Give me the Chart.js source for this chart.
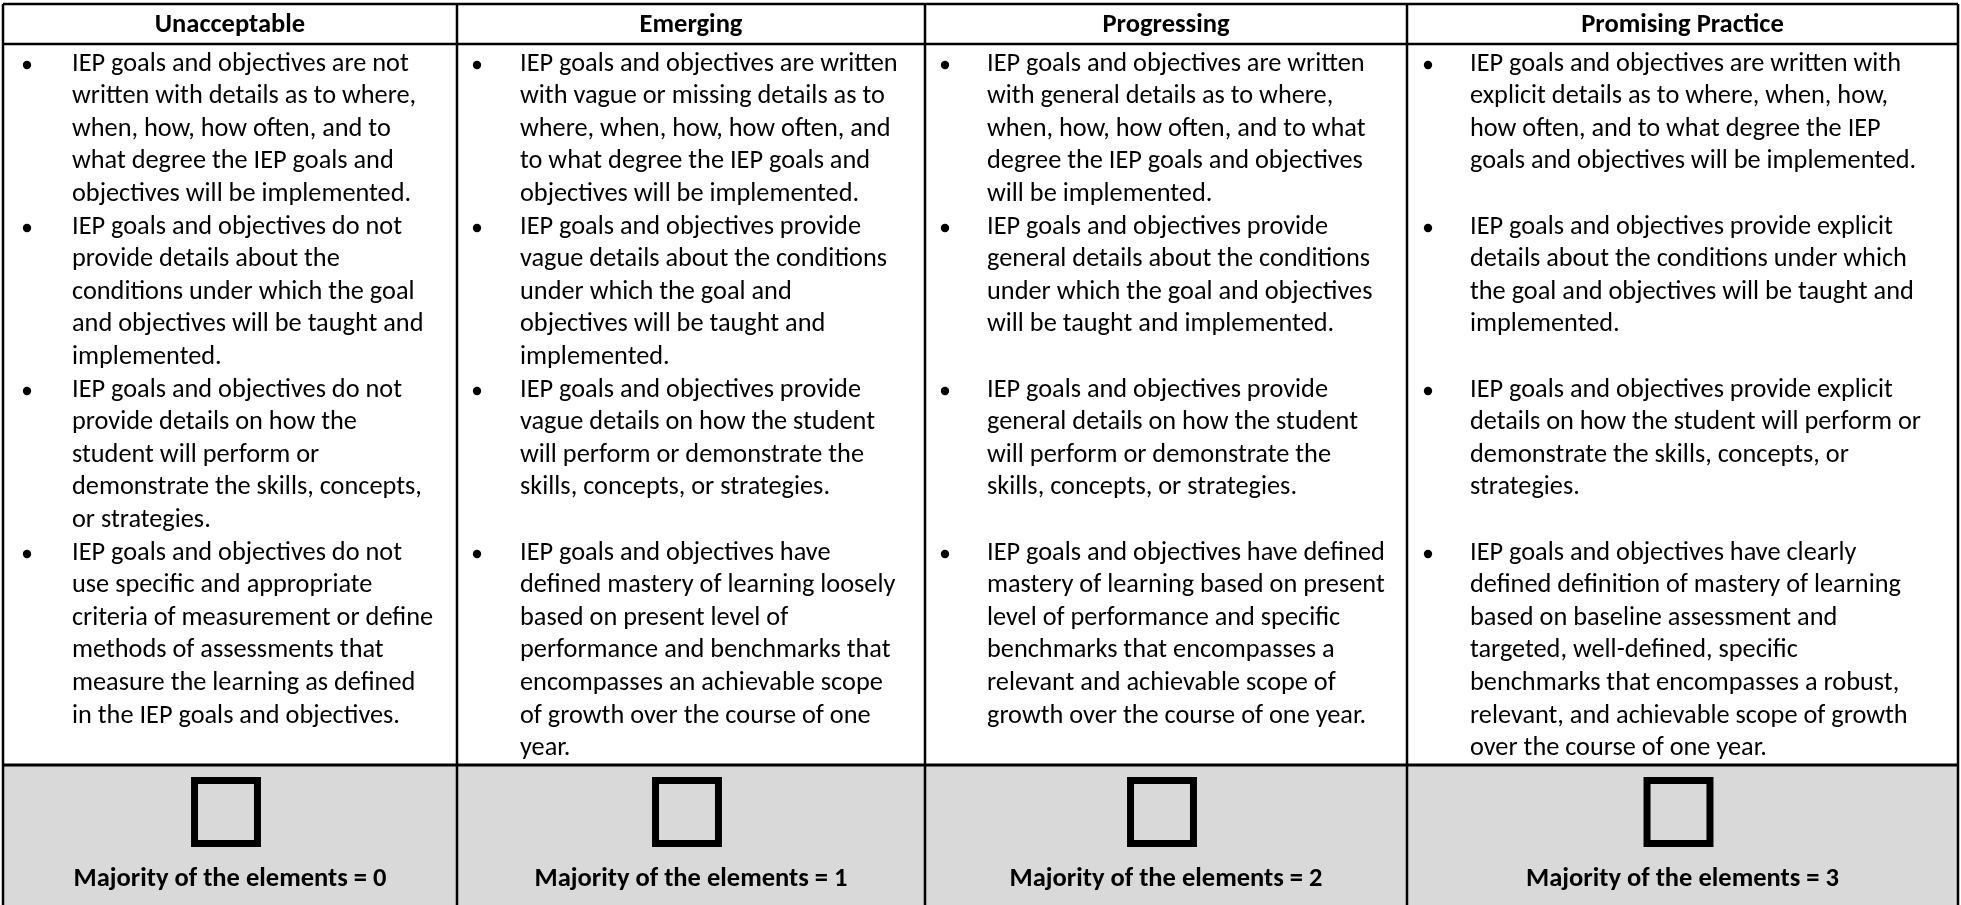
<!DOCTYPE html>
<html>
<head>
<meta charset="utf-8">
<script src="https://cdn.jsdelivr.net/npm/chart.js@4/dist/chart.umd.min.js"></script>
<style>
  html, body { margin: 0; padding: 0; background: #ffffff; }
  canvas { display: block; }
</style>
</head>
<body>
<canvas id="rubricChart" width="1961" height="905"></canvas>
<script>
// rubric content
const levels = ['Unacceptable', 'Emerging', 'Progressing', 'Promising Practice'];
const scores = [0, 1, 2, 3];

const unacceptable = [
    ['IEP goals and objectives are not', 'written with details as to where,', 'when, how, how often, and to', 'what degree the IEP goals and', 'objectives will be implemented.'],
    ['IEP goals and objectives do not', 'provide details about the', 'conditions under which the goal', 'and objectives will be taught and', 'implemented.'],
    ['IEP goals and objectives do not', 'provide details on how the', 'student will perform or', 'demonstrate the skills, concepts,', 'or strategies.'],
    ['IEP goals and objectives do not', 'use specific and appropriate', 'criteria of measurement or define', 'methods of assessments that', 'measure the learning as defined', 'in the IEP goals and objectives.']
];
const emerging = [
    ['IEP goals and objectives are written', 'with vague or missing details as to', 'where, when, how, how often, and', 'to what degree the IEP goals and', 'objectives will be implemented.'],
    ['IEP goals and objectives provide', 'vague details about the conditions', 'under which the goal and', 'objectives will be taught and', 'implemented.'],
    ['IEP goals and objectives provide', 'vague details on how the student', 'will perform or demonstrate the', 'skills, concepts, or strategies.'],
    ['IEP goals and objectives have', 'defined mastery of learning loosely', 'based on present level of', 'performance and benchmarks that', 'encompasses an achievable scope', 'of growth over the course of one', 'year.']
];
const progressing = [
    ['IEP goals and objectives are written', 'with general details as to where,', 'when, how, how often, and to what', 'degree the IEP goals and objectives', 'will be implemented.'],
    ['IEP goals and objectives provide', 'general details about the conditions', 'under which the goal and objectives', 'will be taught and implemented.'],
    ['IEP goals and objectives provide', 'general details on how the student', 'will perform or demonstrate the', 'skills, concepts, or strategies.'],
    ['IEP goals and objectives have defined', 'mastery of learning based on present', 'level of performance and specific', 'benchmarks that encompasses a', 'relevant and achievable scope of', 'growth over the course of one year.']
];
const promising = [
    ['IEP goals and objectives are written with', 'explicit details as to where, when, how,', 'how often, and to what degree the IEP', 'goals and objectives will be implemented.'],
    ['IEP goals and objectives provide explicit', 'details about the conditions under which', 'the goal and objectives will be taught and', 'implemented.'],
    ['IEP goals and objectives provide explicit', 'details on how the student will perform or', 'demonstrate the skills, concepts, or', 'strategies.'],
    ['IEP goals and objectives have clearly', 'defined definition of mastery of learning', 'based on baseline assessment and', 'targeted, well-defined, specific', 'benchmarks that encompasses a robust,', 'relevant, and achievable scope of growth', 'over the course of one year.']
];

const columns = [unacceptable, emerging, progressing, promising];

// page geometry (in the scale units of the chart, which span the page)
const layout = {
    edges: [3, 457, 925, 1407, 1958],
    top: 4,
    headerBottom: 44,
    footerTop: 765,
    bottom: 905,
    firstBaseline: 70.5,
    pitch: 32.6,
    rowStart: [0, 5, 10, 15],
    bulletDx: [24, 20, 20, 21],
    textDx: [69, 63, 62, 63],
    headerBaseline: 31.5,
    footerBaseline: 886,
    boxCenter: 812,
    boxShift: -4
};

const fontFamily = 'Carlito, Lato, "Liberation Sans", sans-serif';

function lineBaseline(k) {
    return layout.firstBaseline + layout.pitch * k;
}

const bulletPoints = [];
columns.forEach(function (col, c) {
    col.forEach(function (bullet, b) {
        bulletPoints.push({ x: layout.edges[c] + layout.bulletDx[c], y: lineBaseline(layout.rowStart[b]) - 5.5 });
    });
});

const boxPoints = scores.map(function (s, i) {
    return { x: (layout.edges[i] + layout.edges[i + 1]) / 2 + layout.boxShift, y: layout.boxCenter };
});

function fitSize(ctx, weight, sample, width) {
    ctx.font = weight + ' 100px ' + fontFamily;
    return 100 * width / ctx.measureText(sample).width;
}

const rubricPlugin = {
    id: 'rubric',
    beforeDatasetsDraw: function (chart) {
        const ctx = chart.ctx;
        const xs = chart.scales.x;
        const ys = chart.scales.y;
        const px = function (v) { return xs.getPixelForValue(v); };
        const py = function (v) { return ys.getPixelForValue(v); };
        const left = px(layout.edges[0]);
        const right = px(layout.edges[4]);

        ctx.save();
        ctx.fillStyle = '#ffffff';
        ctx.fillRect(0, 0, chart.width, chart.height);

        // footer band
        ctx.fillStyle = '#d9d9d9';
        ctx.fillRect(left, py(layout.footerTop), right - left, py(layout.bottom) - py(layout.footerTop));

        // grid
        ctx.strokeStyle = '#000000';
        ctx.lineWidth = 2.5;
        ctx.beginPath();
        ctx.moveTo(left, py(layout.top));
        ctx.lineTo(right, py(layout.top));
        ctx.moveTo(left, py(layout.headerBottom));
        ctx.lineTo(right, py(layout.headerBottom));
        layout.edges.forEach(function (e) {
            ctx.moveTo(px(e), py(layout.top));
            ctx.lineTo(px(e), py(layout.bottom));
        });
        ctx.stroke();
        ctx.lineWidth = 3;
        ctx.beginPath();
        ctx.moveTo(left, py(layout.footerTop));
        ctx.lineTo(right, py(layout.footerTop));
        ctx.stroke();

        const bodySize = fitSize(ctx, 'normal', 'IEP goals and objectives are not', 337);
        const boldSize = fitSize(ctx, 'bold', 'Majority of the elements = 0', 313);

        ctx.fillStyle = '#000000';
        ctx.textBaseline = 'alphabetic';

        // headers and footer labels
        ctx.textAlign = 'center';
        ctx.font = 'bold ' + boldSize + 'px ' + fontFamily;
        levels.forEach(function (name, i) {
            const cx = px((layout.edges[i] + layout.edges[i + 1]) / 2);
            ctx.fillText(name, cx, py(layout.headerBaseline));
            ctx.fillText('Majority of the elements = ' + scores[i], cx, py(layout.footerBaseline));
        });

        // bullet text
        ctx.textAlign = 'left';
        ctx.font = bodySize + 'px ' + fontFamily;
        columns.forEach(function (col, c) {
            const tx = px(layout.edges[c] + layout.textDx[c]);
            col.forEach(function (bullet, b) {
                bullet.forEach(function (line, j) {
                    ctx.fillText(line, tx, py(lineBaseline(layout.rowStart[b] + j)));
                });
            });
        });
        ctx.restore();
    }
};

const ctx = document.getElementById('rubricChart').getContext('2d');
new Chart(ctx, {
    type: 'scatter',
    data: {
        datasets: [
            {
                label: 'Bullets',
                data: bulletPoints,
                pointStyle: 'circle',
                pointRadius: 4.2,
                backgroundColor: '#000000',
                borderColor: '#000000',
                borderWidth: 0
            },
            {
                label: 'Check boxes',
                data: boxPoints,
                pointStyle: 'rect',
                pointRadius: 44.5,
                backgroundColor: 'rgba(0, 0, 0, 0)',
                borderColor: '#000000',
                borderWidth: 7
            }
        ]
    },
    options: {
        responsive: false,
        animation: false,
        devicePixelRatio: 1,
        layout: { padding: 0, autoPadding: false },
        plugins: {
            legend: { display: false },
            tooltip: { enabled: false }
        },
        scales: {
            x: { type: 'linear', min: 0, max: 1961, display: false },
            y: { type: 'linear', min: 0, max: 905, reverse: true, display: false }
        }
    },
    plugins: [rubricPlugin]
});
</script>
</body>
</html>
